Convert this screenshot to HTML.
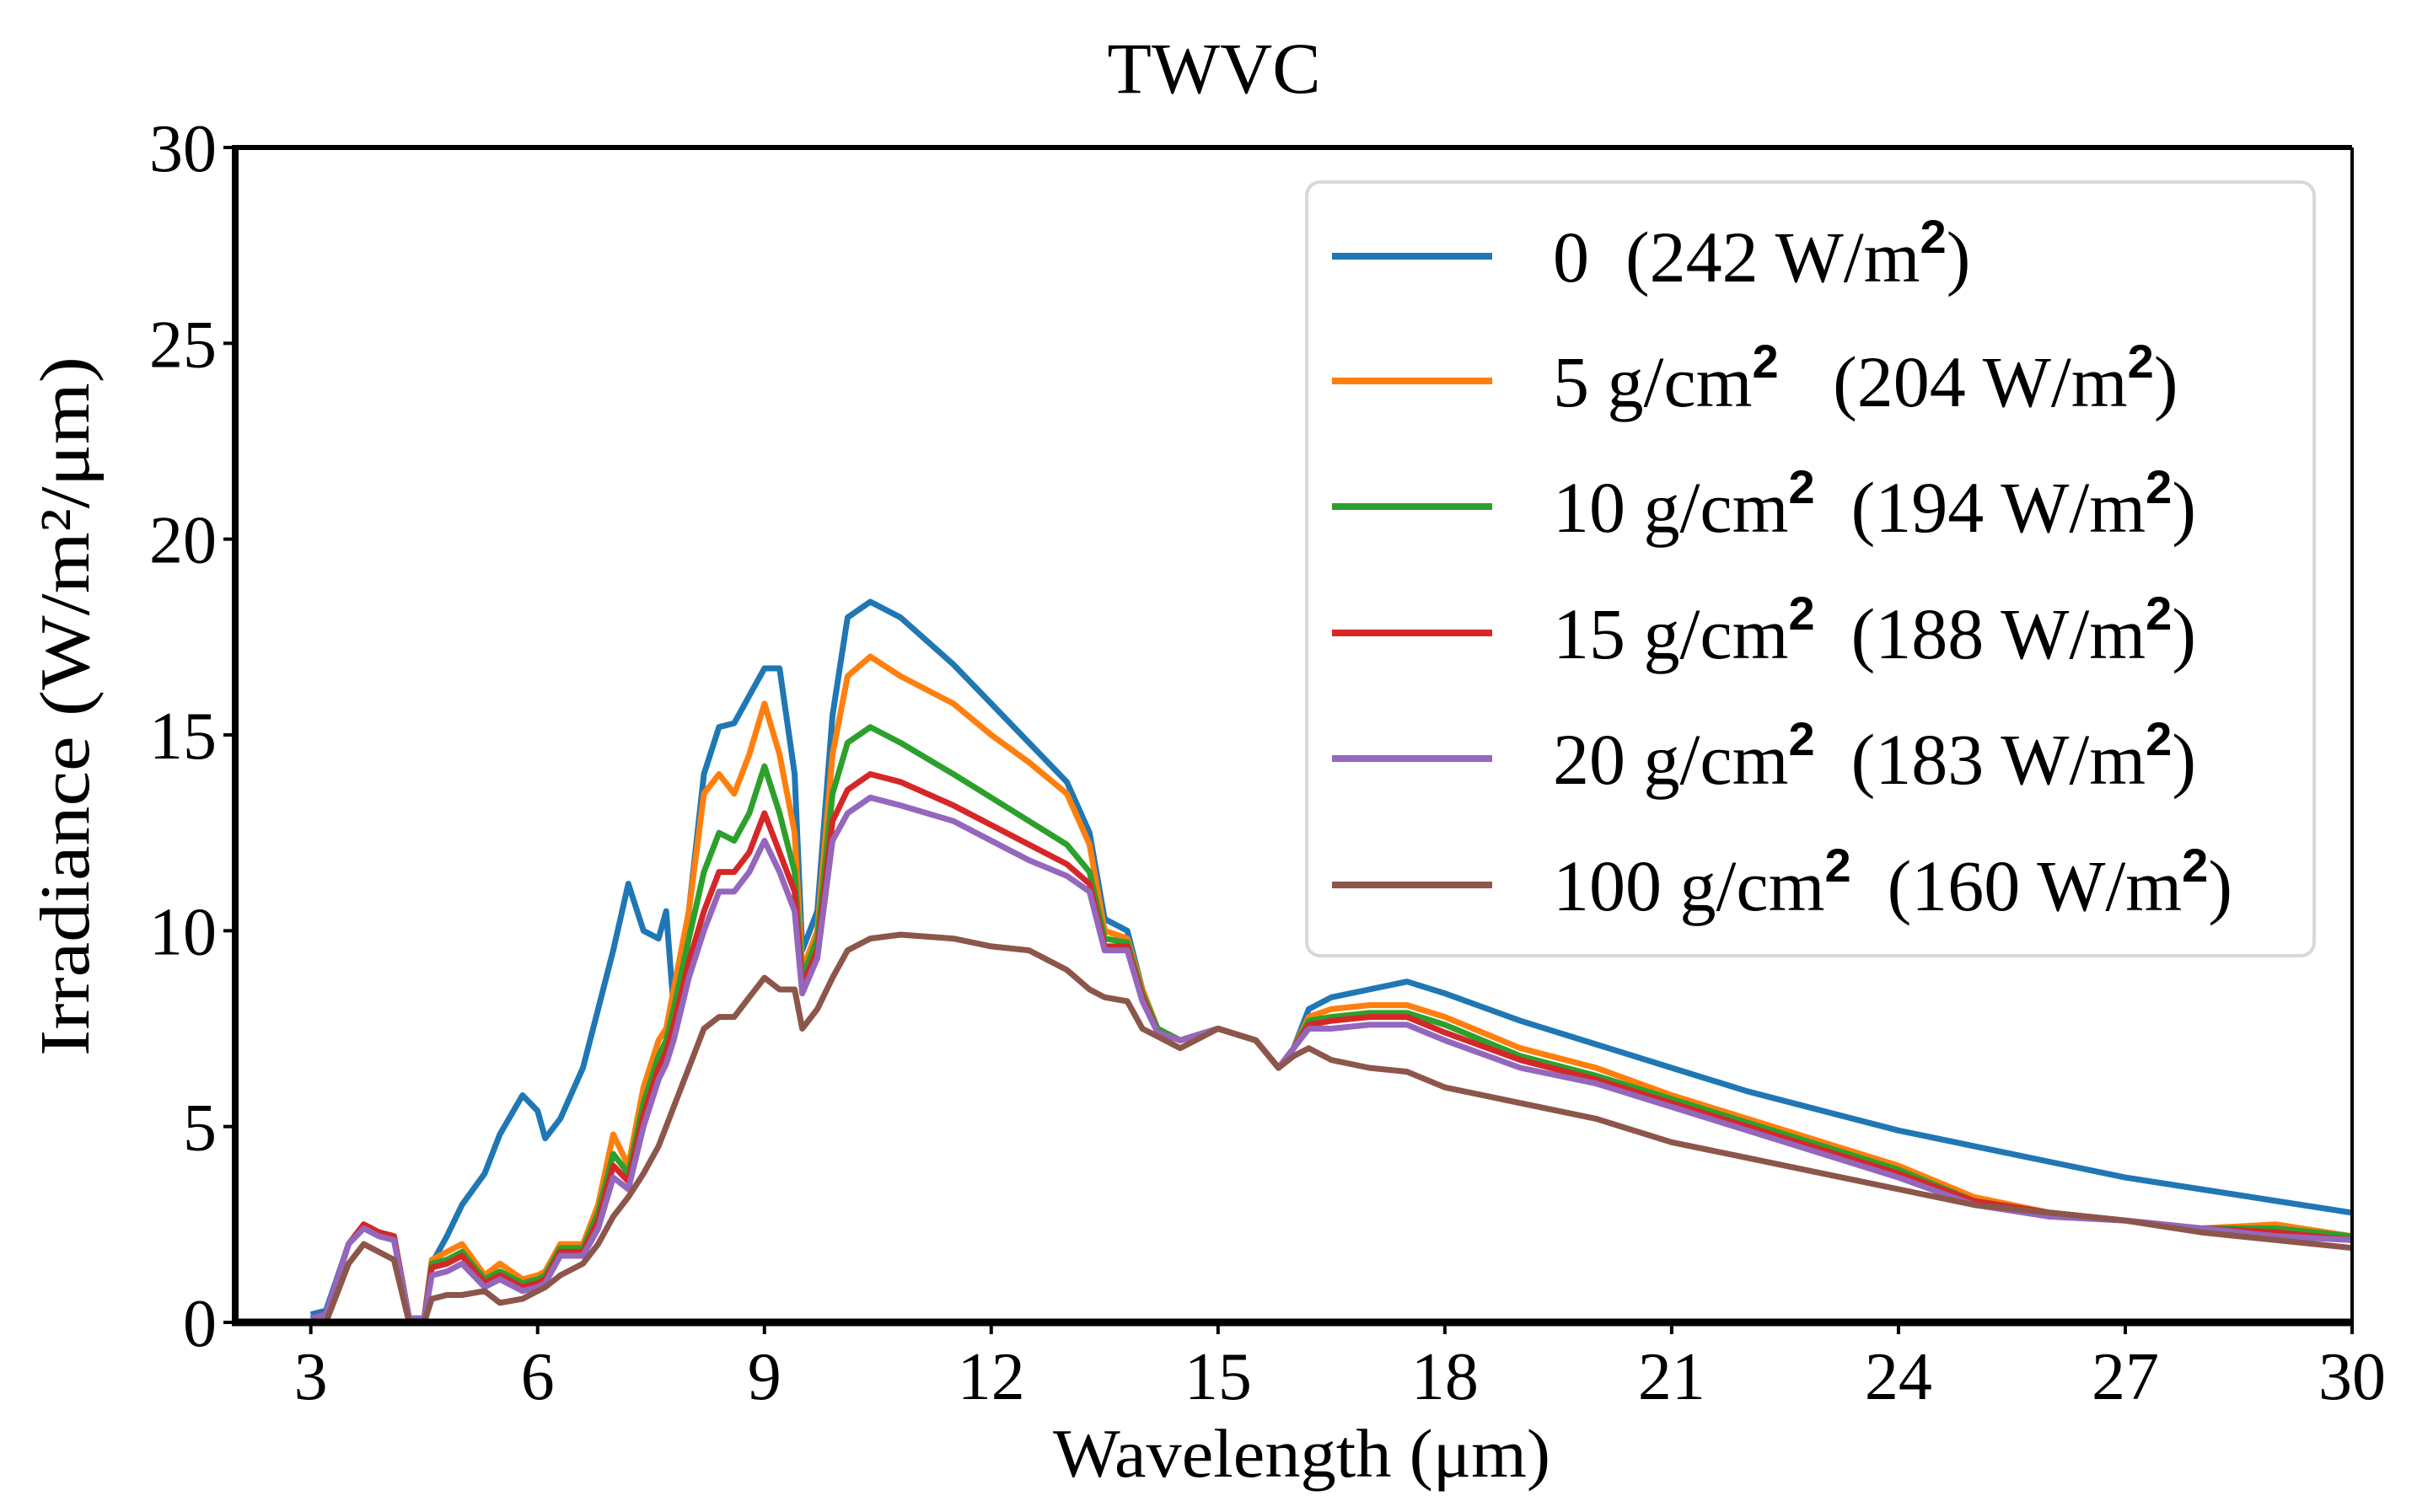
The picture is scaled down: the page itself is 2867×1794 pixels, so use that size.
<!DOCTYPE html>
<html><head><meta charset="utf-8"><style>
html,body{margin:0;padding:0;background:#fff;}
svg{display:block;font-family:"Liberation Serif","DejaVu Serif",serif;}
</style></head><body>
<svg id="chart" width="2867" height="1794" viewBox="0 0 2867 1794" xmlns="http://www.w3.org/2000/svg">
<rect width="2867" height="1794" fill="#fff"/>
<text x="1440" y="110" font-size="86" text-anchor="middle">TWVC</text>
<g id="plot"></g>
<g id="axes"></g>
<text transform="translate(105,838) rotate(-90)" font-size="84" text-anchor="middle" textLength="830" lengthAdjust="spacingAndGlyphs">Irradiance (W/m²/μm)</text>
<text x="1544" y="1752" font-size="82" text-anchor="middle" textLength="590" lengthAdjust="spacingAndGlyphs">Wavelength (μm)</text>
<g id="legend"></g>
</svg>
<script>
const wavelengths=[3.0,3.2,3.5,3.7,3.9,4.1,4.3,4.5,4.6,4.8,5.0,5.3,5.5,5.8,6.0,6.1,6.3,6.6,6.8,7.0,7.2,7.4,7.6,7.7,7.8,8.0,8.2,8.4,8.6,8.8,9.0,9.2,9.4,9.5,9.7,9.9,10.1,10.4,10.8,11.5,12.0,12.5,13.0,13.3,13.5,13.8,14.0,14.2,14.5,15.0,15.5,15.8,16.0,16.2,16.5,17.0,17.5,18.0,19.0,20.0,21.0,22.0,23.0,24.0,25.0,26.0,27.0,28.0,29.0,30.0];
const s0=[0.2,0.3,2.0,2.5,2.3,2.2,0.1,0.1,1.5,2.2,3.0,3.8,4.8,5.8,5.4,4.7,5.2,6.5,8.0,9.5,11.2,10.0,9.8,10.5,8.0,10.5,14.0,15.2,15.3,16.0,16.7,16.7,14.0,9.5,10.5,15.5,18.0,18.4,18.0,16.8,15.8,14.8,13.8,12.5,10.3,10.0,8.5,7.5,7.2,7.5,7.2,6.5,7.0,8.0,8.3,8.5,8.7,8.4,7.7,7.1,6.5,5.9,5.4,4.9,4.5,4.1,3.7,3.4,3.1,2.8];
const s5=[0.1,0.2,2.0,2.5,2.3,2.2,0.1,0.1,1.6,1.8,2.0,1.2,1.5,1.1,1.2,1.3,2.0,2.0,3.0,4.8,4.0,6.0,7.2,7.5,8.5,10.5,13.5,14.0,13.5,14.5,15.8,14.5,12.5,9.0,10.0,14.5,16.5,17.0,16.5,15.8,15.0,14.3,13.5,12.2,10.0,9.8,8.5,7.5,7.2,7.5,7.2,6.5,7.0,7.8,8.0,8.1,8.1,7.8,7.0,6.5,5.8,5.2,4.6,4.0,3.2,2.8,2.6,2.4,2.5,2.2];
const s10=[0.1,0.2,2.0,2.5,2.3,2.2,0.1,0.1,1.5,1.6,1.8,1.1,1.3,1.0,1.1,1.2,1.9,1.9,2.8,4.3,3.8,5.6,6.8,7.2,8.0,9.8,11.5,12.5,12.3,13.0,14.2,13.0,11.5,8.8,9.8,13.5,14.8,15.2,14.8,14.0,13.4,12.8,12.2,11.5,9.8,9.7,8.4,7.5,7.2,7.5,7.2,6.5,7.0,7.7,7.8,7.9,7.9,7.6,6.8,6.3,5.7,5.1,4.5,3.9,3.1,2.8,2.6,2.4,2.4,2.2];
const s15=[0.1,0.2,2.0,2.5,2.3,2.2,0.1,0.1,1.4,1.5,1.7,1.0,1.2,0.9,1.0,1.1,1.8,1.8,2.6,4.0,3.6,5.3,6.5,6.9,7.6,9.2,10.5,11.5,11.5,12.0,13.0,12.0,11.0,8.6,9.5,12.8,13.6,14.0,13.8,13.2,12.7,12.2,11.7,11.2,9.6,9.6,8.3,7.4,7.2,7.5,7.2,6.5,7.0,7.6,7.7,7.8,7.8,7.4,6.7,6.2,5.6,5.0,4.4,3.8,3.1,2.8,2.6,2.4,2.3,2.1];
const s20=[0.1,0.2,2.0,2.4,2.2,2.1,0.1,0.1,1.2,1.3,1.5,0.9,1.1,0.8,0.9,1.0,1.7,1.7,2.4,3.7,3.4,5.0,6.2,6.6,7.2,8.8,10.0,11.0,11.0,11.5,12.3,11.5,10.5,8.4,9.3,12.3,13.0,13.4,13.2,12.8,12.3,11.8,11.4,11.0,9.5,9.5,8.2,7.4,7.2,7.5,7.2,6.5,7.0,7.5,7.5,7.6,7.6,7.2,6.5,6.1,5.5,4.9,4.3,3.7,3.0,2.7,2.6,2.4,2.2,2.1];
const s100=[0,0,1.5,2.0,1.8,1.6,0,0,0.6,0.7,0.7,0.8,0.5,0.6,0.8,0.9,1.2,1.5,2.0,2.7,3.2,3.8,4.5,5.0,5.5,6.5,7.5,7.8,7.8,8.3,8.8,8.5,8.5,7.5,8.0,8.8,9.5,9.8,9.9,9.8,9.6,9.5,9.0,8.5,8.3,8.2,7.5,7.3,7.0,7.5,7.2,6.5,6.8,7.0,6.7,6.5,6.4,6.0,5.6,5.2,4.6,4.2,3.8,3.4,3.0,2.8,2.6,2.3,2.1,1.9];
const seriesList=[s0,s5,s10,s15,s20,s100];
const seriesNames=['series-0','series-5','series-10','series-15','series-20','series-100'];
const colors=['#1f77b4','#ff7f0e','#2ca02c','#d62728','#9467bd','#8c564b'];
const legendLabels=[['0  (242 W/m','2',')'],['5 g/cm','2','   (204 W/m','2',')'],['10 g/cm','2','  (194 W/m','2',')'],['15 g/cm','2','  (188 W/m','2',')'],['20 g/cm','2','  (183 W/m','2',')'],['100 g/cm','2','  (160 W/m','2',')']];
const xTicks=[3,6,9,12,15,18,21,24,27,30];
const yTicks=[0,5,10,15,20,25,30];

const NS='http://www.w3.org/2000/svg';
const X0=279,X1=2790,Y0=1569,Y1=175;
const xmin=2,xmax=30,ymin=0,ymax=30;
function sx(v){return X0+(v-xmin)/(xmax-xmin)*(X1-X0);}
function sy(v){return Y0-(v-ymin)/(ymax-ymin)*(Y0-Y1);}
function mk(t,a,p){const e=document.createElementNS(NS,t);for(const k in a)e.setAttribute(k,a[k]);p.appendChild(e);return e;}

const plot=document.getElementById('plot');
seriesList.forEach((s,i)=>{
  const d=s.map((v,j)=>(j?'L':'M')+sx(wavelengths[j]).toFixed(1)+','+sy(v).toFixed(1)).join(' ');
  const p=mk('path',{d:d,fill:'none',stroke:colors[i],'stroke-width':7,'stroke-linejoin':'round'},plot);
  
  
});

const axes=document.getElementById('axes');
mk('line',{x1:X0,y1:Y1,x2:X1,y2:Y1,stroke:'#000','stroke-width':6},axes);
mk('line',{x1:X1,y1:Y1,x2:X1,y2:Y0,stroke:'#000','stroke-width':4},axes);
const xa=mk('line',{x1:X0-4,y1:Y0,x2:X1+2,y2:Y0,stroke:'#000','stroke-width':9},axes);


const ya=mk('line',{x1:X0,y1:Y1-3,x2:X0,y2:Y0+4,stroke:'#000','stroke-width':8},axes);


xTicks.forEach(t=>{
  mk('line',{x1:sx(t),y1:Y0,x2:sx(t),y2:Y0+14,stroke:'#000','stroke-width':4},axes);
  const tx=mk('text',{x:sx(t),y:1660,'font-size':80,'text-anchor':'middle'},axes);
  tx.textContent=t;
  
  
});
yTicks.forEach(t=>{
  mk('line',{x1:X0-14,y1:sy(t),x2:X0,y2:sy(t),stroke:'#000','stroke-width':4},axes);
  const tx=mk('text',{x:X0-22,y:sy(t)+28,'font-size':80,'text-anchor':'end'},axes);
  tx.textContent=t;
  
  
});

const lg=document.getElementById('legend');
const box=mk('rect',{x:1550,y:216,width:1195,height:918,rx:16,fill:'#fff',stroke:'#d8d8d8','stroke-width':4},lg);


const rowY=[304,452,601,751,900,1050];
legendLabels.forEach((parts,i)=>{
  const g=mk('g',{},lg);
  
  
  mk('line',{x1:1580,y1:rowY[i],x2:1770,y2:rowY[i],stroke:colors[i],'stroke-width':8},g);
  const t=mk('text',{x:1842,y:rowY[i]+30,'font-size':86,style:'white-space:pre'},g);
  parts.forEach((p,k)=>{
    const ts=mk('tspan',{},t);
    if(p==='2'){ts.setAttribute('font-family','"Liberation Sans",sans-serif');ts.setAttribute('font-weight','bold');ts.setAttribute('font-size','56');ts.setAttribute('dy','-34');}
    else if(k>0){ts.setAttribute('dy','34');}
    ts.textContent=p;
  });
});
</script>
</body></html>
